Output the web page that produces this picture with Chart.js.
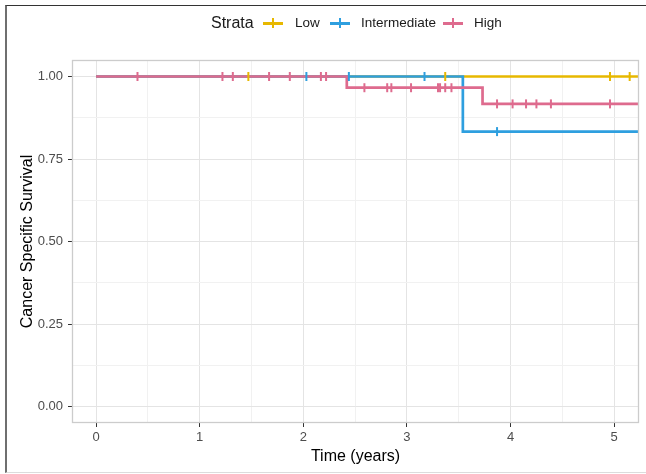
<!DOCTYPE html>
<html>
<head>
<meta charset="utf-8">
<script src="https://cdn.jsdelivr.net/npm/chart.js@4/dist/chart.umd.min.js"></script>
<style>
html,body{margin:0;padding:0;background:#fff;}
#wrap{position:relative;width:646px;height:474px;overflow:hidden;font-family:"Liberation Sans",Arial,sans-serif;}
#chart{position:absolute;left:0;top:0;}
#frame{position:absolute;left:5px;top:5px;width:660px;height:468px;box-sizing:border-box;border-left:2px solid #6f6f6f;border-top:1.5px solid #333;border-bottom:1px solid #dcdcdc;pointer-events:none;}
.lt{position:absolute;top:14px;line-height:18px;color:#1a1a1a;white-space:nowrap;}
.title{font-size:16px;}
.item{font-size:13.5px;}
.key{position:absolute;top:18px;width:20px;height:10px;}
.key::before{content:"";position:absolute;left:0;top:4px;width:20px;height:2.5px;background:var(--c);}
.key::after{content:"";position:absolute;left:9px;top:0;width:2px;height:10px;background:var(--c);}
</style>
</head>
<body>
<div id="wrap">
<canvas id="chart" width="646" height="474"></canvas>
<div id="frame"></div>
<div id="legend"></div>
</div>
<script>
// ---- data ----
const strata = ["Low", "Intermediate", "High"];
const colors = ["#E7B800", "#2E9FDF", "#DE6B8E"];

// step-curve event times and survival after each step
const lowTimes  = [0];
const lowSurv   = [1.0];
const intTimes  = [0, 3.54];
const intSurv   = [1.0, 0.833];
const highTimes = [0, 2.42, 3.73];
const highSurv  = [1.0, 0.966, 0.917];

// censoring times
const lowCensor  = [1.47, 3.37, 4.96, 5.15];
const intCensor  = [2.03, 2.44, 3.17, 3.87];
const highCensor = [0.40, 1.22, 1.32, 1.67, 1.87, 2.17, 2.22, 2.59, 2.81, 2.85, 3.04, 3.30, 3.32, 3.37, 3.43,
                    3.87, 4.02, 4.15, 4.25, 4.39, 4.96];

// axis ticks
const xMajor = [0, 1, 2, 3, 4, 5];
const xMinor = [0.5, 1.5, 2.5, 3.5, 4.5];
const yMajor = [0, 0.25, 0.5, 0.75, 1.0];
const yMinor = [0.125, 0.375, 0.625, 0.875];

const X_MIN = -0.232, X_MAX = 5.24, Y_MIN = -0.05, Y_MAX = 1.05;

// ---- build ----
const times = [lowTimes, intTimes, highTimes];
const survs = [lowSurv, intSurv, highSurv];
const censors = [lowCensor, intCensor, highCensor];

function survAt(ts, ss, t) {
  let v = ss[0];
  for (let i = 0; i < ts.length; i++) if (ts[i] <= t) v = ss[i];
  return v;
}

const datasets = [];
// censor marks (drawn above all lines); pink on top
strata.forEach((s, i) => {
  datasets.push({
    type: 'scatter',
    label: s + ' censored',
    data: censors[i].map(t => ({x: t, y: survAt(times[i], survs[i], t)})),
    pointStyle: 'line',
    rotation: 90,
    radius: 4.5,
    hoverRadius: 4.5,
    borderColor: colors[i],
    backgroundColor: colors[i],
    borderWidth: 2,
    showLine: false,
    order: 2 - i
  });
});
// step curves
strata.forEach((s, i) => {
  const pts = times[i].map((t, k) => ({x: t, y: survs[i][k]}));
  pts.push({x: X_MAX + 0.2, y: survs[i][survs[i].length - 1]});
  datasets.push({
    type: 'line',
    label: s,
    data: pts,
    stepped: 'before',
    borderColor: colors[i],
    backgroundColor: colors[i],
    borderWidth: 2.7,
    pointRadius: 0,
    pointHoverRadius: 0,
    fill: false,
    tension: 0,
    order: 5 - i
  });
});

const isMajor = (arr, v) => arr.some(m => Math.abs(m - v) < 1e-9);

const panelBorder = {
  id: 'panelBorder',
  afterDatasetsDraw(chart) {
    const a = chart.chartArea, c = chart.ctx;
    c.save();
    c.strokeStyle = '#CCCCCC';
    c.lineWidth = 1.3;
    c.strokeRect(a.left + 0.5, a.top + 0.5, a.right - a.left - 1, a.bottom - a.top - 1);
    c.restore();
  }
};

const FONT = '"Liberation Sans", Arial, sans-serif';

new Chart(document.getElementById('chart'), {
  type: 'scatter',
  data: {datasets},
  plugins: [panelBorder],
  options: {
    responsive: false,
    animation: false,
    devicePixelRatio: 1,
    layout: {padding: {left: 0, top: 60, right: 7, bottom: 0}},
    plugins: {legend: {display: false}, tooltip: {enabled: false}},
    events: [],
    scales: {
      x: {
        type: 'linear',
        min: X_MIN, max: X_MAX,
        afterBuildTicks: s => { s.ticks = [...xMajor, ...xMinor].sort((a, b) => a - b).map(v => ({value: v})); },
        afterFit: s => { s.height = 51; },
        ticks: {
          autoSkip: false, maxRotation: 0, padding: 3,
          color: '#4D4D4D',
          font: {family: FONT, size: 13},
          callback: v => isMajor(xMajor, v) ? String(v) : ''
        },
        grid: {
          color: c => isMajor(xMajor, c.tick.value) ? '#E4E4E4' : '#F1F1F1',
          lineWidth: 1,
          tickColor: c => isMajor(xMajor, c.tick.value) ? '#333333' : 'rgba(0,0,0,0)',
          tickLength: 4,
          tickWidth: 1
        },
        border: {display: false},
        title: {
          display: true, text: 'Time (years)', color: '#000',
          font: {family: FONT, size: 16}, padding: {top: 0, bottom: 8}
        }
      },
      y: {
        type: 'linear',
        min: Y_MIN, max: Y_MAX,
        afterBuildTicks: s => { s.ticks = [...yMajor, ...yMinor].sort((a, b) => a - b).map(v => ({value: v})); },
        afterFit: s => { s.width = 72; },
        ticks: {
          autoSkip: false, padding: 5,
          color: '#4D4D4D',
          font: {family: FONT, size: 13},
          callback: v => isMajor(yMajor, v) ? v.toFixed(2) : ''
        },
        grid: {
          color: c => isMajor(yMajor, c.tick.value) ? '#E4E4E4' : '#F1F1F1',
          lineWidth: 1,
          tickColor: c => isMajor(yMajor, c.tick.value) ? '#333333' : 'rgba(0,0,0,0)',
          tickLength: 4,
          tickWidth: 1
        },
        border: {display: false},
        title: {
          display: true, text: 'Cancer Specific Survival', color: '#000',
          font: {family: FONT, size: 16}, padding: {top: 18, bottom: 0}
        }
      }
    }
  }
});

// ---- legend (HTML text) ----
const lg = document.getElementById('legend');
const legendTitle = "Strata";
const layoutX = {title: 211, keys: [263, 330, 443], labels: [295, 361, 474]};
const t = document.createElement('div');
t.className = 'lt title'; t.style.left = layoutX.title + 'px'; t.textContent = legendTitle;
lg.appendChild(t);
strata.forEach((s, i) => {
  const k = document.createElement('div');
  k.className = 'key'; k.style.left = layoutX.keys[i] + 'px'; k.style.setProperty('--c', colors[i]);
  lg.appendChild(k);
  const l = document.createElement('div');
  l.className = 'lt item'; l.style.left = layoutX.labels[i] + 'px'; l.textContent = s;
  lg.appendChild(l);
});
</script>
</body>
</html>
